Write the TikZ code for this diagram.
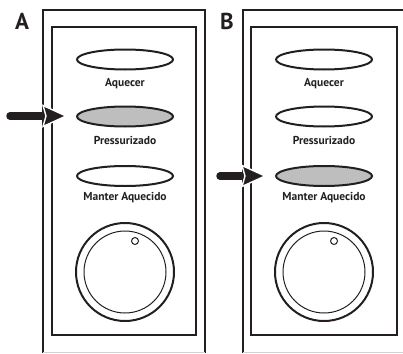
\documentclass[tikz,border=0pt]{standalone}
\usepackage{fontspec}
\setmainfont{PT Sans}
\usetikzlibrary{shapes.geometric}
\definecolor{ink}{RGB}{35,31,32}
\definecolor{btnfill}{RGB}{190,190,190}
\tikzset{
  box/.style={draw=ink, line width=2.2pt},
  btn/.style={ellipse, draw=ink, line width=2pt, minimum width=96pt, minimum height=20pt, inner sep=0pt},
  btnon/.style={btn, fill=btnfill},
  lbl/.style={font=\bfseries\fontsize{11.5}{13}\selectfont, text=ink, inner sep=0pt},
  panel/.style={font=\bfseries\fontsize{23}{26}\selectfont, text=ink, inner sep=0pt},
  shaft/.style={draw=ink, line width=7.5pt, line cap=round},
  head/.style={fill=ink, draw=white, line width=1.4pt}
}
\begin{document}
\begin{tikzpicture}[x=1pt,y=-1pt]
\useasboundingbox (0,0) rectangle (403,353);
% panel A
\draw[box] (43,353) -- (43,10) -- (205,10) -- (205,353);
\draw[btnfill!70, line width=1pt] (43,352) -- (205,352);
\draw[box] (52,27) rectangle (196,335);
\node[panel] (labA) at (22,21) {A};
\node[btn] (a1) at (125,59.5) {};
\node[lbl] (a1t) at (125,84) {Aquecer};
\node[btnon] (a2) at (125,116.5) {};
\node[lbl] (a2t) at (125,140) {Pressurizado};
\node[btn] (a3) at (125,176) {};
\node[lbl] (a3t) at (125,198) {Manter Aquecido};
\node[circle, draw=ink, line width=2pt, minimum size=98pt, inner sep=0pt] (ak) at (125,272) {};
\node[circle, draw=ink, line width=1pt, minimum size=82pt, inner sep=0pt] (aki) at (125,272) {};
\node[circle, draw=ink, line width=1pt, minimum size=7pt, inner sep=0pt] (akd) at (135,241) {};
\coordinate (atail) at (10,116);
\coordinate (ahb) at (44,116);
\draw[shaft] (atail) -- (ahb);
\draw[head] (43,105.5) -- (66,116) -- (43,126.5) -- (46,116) -- cycle;
% panel B
\draw[box] (243,353) -- (243,10) -- (406,10);
\draw[btnfill!70, line width=1pt] (243,352) -- (403,352);
\draw[box] (251,27) rectangle (397,335);
\node[panel] (labB) at (227,21) {B};
\node[btn] (b1) at (324,59.5) {};
\node[lbl] (b1t) at (324,84) {Aquecer};
\node[btn] (b2) at (324,116.5) {};
\node[lbl] (b2t) at (324,140) {Pressurizado};
\node[btnon] (b3) at (324,176) {};
\node[lbl] (b3t) at (324,198) {Manter Aquecido};
\node[circle, draw=ink, line width=2pt, minimum size=98pt, inner sep=0pt] (bk) at (324,272) {};
\node[circle, draw=ink, line width=1pt, minimum size=82pt, inner sep=0pt] (bki) at (324,272) {};
\node[circle, draw=ink, line width=1pt, minimum size=7pt, inner sep=0pt] (bkd) at (334,241) {};
\coordinate (btail) at (220,176);
\coordinate (bhb) at (244,176);
\draw[shaft] (btail) -- (bhb);
\draw[head] (242,165.5) -- (265,176) -- (242,186.5) -- (245,176) -- cycle;
\end{tikzpicture}
\end{document}
